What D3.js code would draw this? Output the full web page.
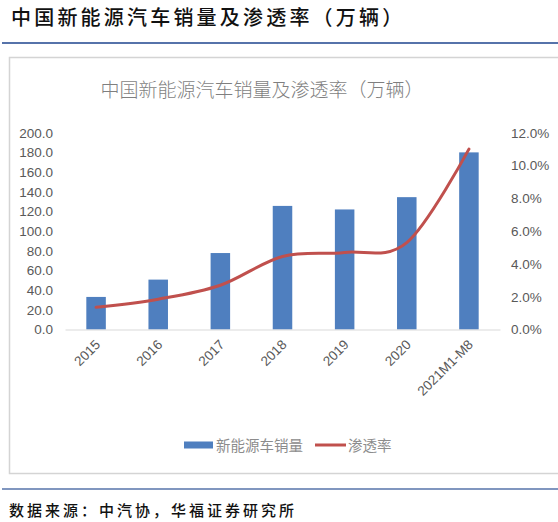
<!DOCTYPE html>
<html>
<head>
<meta charset="utf-8">
<script src="https://cdn.jsdelivr.net/npm/d3@7"></script>
<style>
  body { margin: 0; background: #fff; }
  svg { display: block; }
</style>
</head>
<body>
<div id="chart"></div>
<script>
// data
var categories = ["2015", "2016", "2017", "2018", "2019", "2020", "2021M1-M8"];
var sales = [33.1, 50.7, 77.7, 125.6, 122.0, 134.5, 180.0];     // 万辆
var penetration = [1.35, 1.85, 2.7, 4.45, 4.7, 5.3, 11.0];       // %
var leftTicks = [0, 20, 40, 60, 80, 100, 120, 140, 160, 180, 200];
var rightTicks = [0, 2, 4, 6, 8, 10, 12];

var W = 558, H = 522;
var cjk = "'Noto Sans CJK SC', 'Noto Sans', sans-serif";
var num = "'Liberation Sans', Arial, sans-serif";

var svg = d3.select("#chart")
  .append("svg")
  .attr("width", W)
  .attr("height", H);

// page title + rules
svg.append("text")
  .attr("x", 11)
  .attr("y", 25)
  .attr("font-family", cjk)
  .attr("font-size", 20)
  .attr("font-weight", 500)
  .attr("letter-spacing", 3.2)
  .attr("fill", "#111")
  .text("中国新能源汽车销量及渗透率（万辆）");

svg.append("line")
  .attr("x1", 2).attr("x2", W)
  .attr("y1", 43).attr("y2", 43)
  .attr("stroke", "#5673aa")
  .attr("stroke-width", 2);

svg.append("line")
  .attr("x1", 2).attr("x2", W)
  .attr("y1", 489).attr("y2", 489)
  .attr("stroke", "#5673aa")
  .attr("stroke-width", 1.5);

svg.append("text")
  .attr("x", 9)
  .attr("y", 516)
  .attr("font-family", cjk)
  .attr("font-size", 15)
  .attr("font-weight", 500)
  .attr("letter-spacing", 3.0)
  .attr("fill", "#111")
  .text("数据来源：中汽协，华福证券研究所");

// chart frame
svg.append("rect")
  .attr("x", 9.5)
  .attr("y", 57.5)
  .attr("width", W + 10)
  .attr("height", 416)
  .attr("fill", "none")
  .attr("stroke", "#d4d4d4")
  .attr("stroke-width", 1.5);

svg.append("text")
  .attr("x", 262)
  .attr("y", 97)
  .attr("text-anchor", "middle")
  .attr("font-family", cjk)
  .attr("font-size", 19)
  .attr("font-weight", 300)
  .attr("fill", "#7f7f7f")
  .text("中国新能源汽车销量及渗透率（万辆）");

// scales
var plotLeft = 65, plotRight = 500, plotTop = 132.7, plotBottom = 329.5;

var x = d3.scaleBand()
  .domain(categories)
  .range([plotLeft, plotRight])
  .paddingInner(0.686)
  .paddingOuter(0.343);

var yL = d3.scaleLinear().domain([0, 200]).range([plotBottom, plotTop]);
var yR = d3.scaleLinear().domain([0, 12]).range([plotBottom, plotTop]);

// left axis labels
var leftAxis = svg.append("g")
  .attr("transform", "translate(" + 53 + ",0)")
  .call(d3.axisLeft(yL).tickValues(leftTicks).tickSize(0).tickPadding(0)
    .tickFormat(function(d) { return d3.format(".1f")(d); }));
leftAxis.select(".domain").remove();
leftAxis.selectAll("text")
  .attr("font-family", num)
  .attr("font-size", 13.5)
  .attr("fill", "#595959");

// right axis labels
var rightAxis = svg.append("g")
  .attr("transform", "translate(" + 511 + ",0)")
  .call(d3.axisRight(yR).tickValues(rightTicks).tickSize(0).tickPadding(0)
    .tickFormat(function(d) { return d3.format(".1f")(d) + "%"; }));
rightAxis.select(".domain").remove();
rightAxis.selectAll("text")
  .attr("font-family", num)
  .attr("font-size", 13.5)
  .attr("fill", "#595959");

// bars
svg.selectAll(".bar")
  .data(sales)
  .enter()
  .append("rect")
  .attr("class", "bar")
  .attr("x", function(d, i) { return x(categories[i]); })
  .attr("y", function(d) { return yL(d); })
  .attr("width", x.bandwidth())
  .attr("height", function(d) { return yL(0) - yL(d); })
  .attr("fill", "#4f7fbf");

// x axis
var bottomAxis = svg.append("g")
  .attr("transform", "translate(0," + plotBottom + ")")
  .call(d3.axisBottom(x).tickSize(0).tickPadding(0));
bottomAxis.select(".domain")
  .attr("stroke", "#d9d9d9")
  .attr("stroke-width", 1);
bottomAxis.selectAll("text")
  .attr("font-family", num)
  .attr("font-size", 13.5)
  .attr("fill", "#595959")
  .attr("text-anchor", "end")
  .attr("dy", 0)
  .attr("transform", "translate(5,16) rotate(-45)");

// penetration line (Excel-style smoothing)
var line = d3.line()
  .x(function(d, i) { return x(categories[i]) + x.bandwidth() / 2; })
  .y(function(d) { return yR(d); })
  .curve(d3.curveCatmullRom.alpha(0));

svg.append("path")
  .datum(penetration)
  .attr("d", line)
  .attr("fill", "none")
  .attr("stroke", "#c0504d")
  .attr("stroke-width", 3)
  .attr("stroke-linecap", "round");

// legend
var legend = svg.append("g").attr("transform", "translate(0,445)");
legend.append("rect")
  .attr("x", 184).attr("y", -3.5)
  .attr("width", 29).attr("height", 7)
  .attr("fill", "#4f7fbf");
legend.append("text")
  .attr("x", 216).attr("y", 5.5)
  .attr("font-family", cjk)
  .attr("font-size", 14.5)
  .attr("fill", "#8c8c8c")
  .text("新能源车销量");
legend.append("line")
  .attr("x1", 315).attr("x2", 346)
  .attr("y1", 0).attr("y2", 0)
  .attr("stroke", "#c0504d")
  .attr("stroke-width", 3);
legend.append("text")
  .attr("x", 348).attr("y", 5.5)
  .attr("font-family", cjk)
  .attr("font-size", 14.5)
  .attr("fill", "#8c8c8c")
  .text("渗透率");
</script>
</body>
</html>
